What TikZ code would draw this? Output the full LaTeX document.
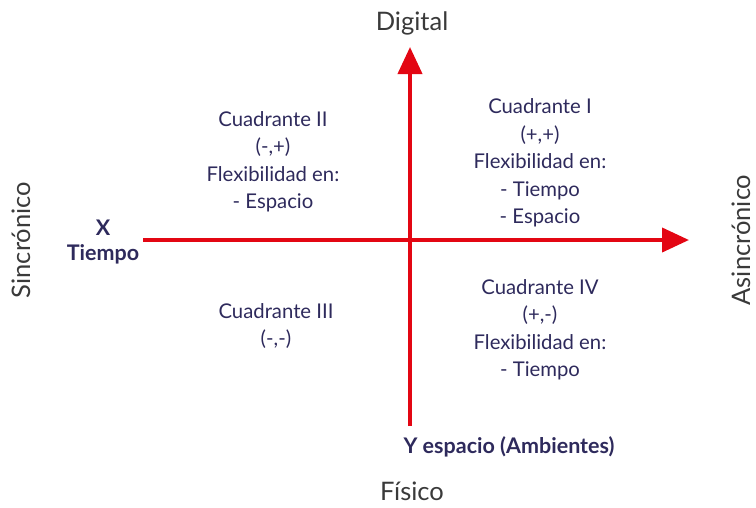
\documentclass[tikz,border=0pt]{standalone}
\usepackage{fontspec}
\setmainfont{Lato}
\usetikzlibrary{arrows.meta}
\definecolor{axred}{HTML}{E30613}
\definecolor{navy}{HTML}{2E2A5C}
\definecolor{sidegray}{HTML}{3A3A3A}
\begin{document}
\begin{tikzpicture}[x=1pt,y=-1pt,
  axis/.style={axred,line width=4pt,-{Triangle[length=27pt,width=24pt]}},
  quad/.style={text=navy,font=\fontsize{20.3}{27.5}\selectfont,align=center},
  side/.style={text=sidegray,font=\fontsize{25.5}{30}\selectfont,inner sep=0pt},
  lbl/.style={text=navy,font=\fontsize{21.5}{25}\selectfont\bfseries,align=center}]
\useasboundingbox (0,0) rectangle (756,507);
\coordinate (xl) at (143,240);
\coordinate (xr) at (689,240);
\coordinate (yb) at (410,426);
\coordinate (yt) at (410,47);
\draw[axis] (xl) -- (xr);
\draw[axis] (yb) -- (yt);
\node[side] (dig) at (412,23) {Digital};
\node[side] (fis) at (412,491) {Físico};
\node[side,rotate=90] (sin) at (21,240) {Sincrónico};
\node[side,rotate=90] (asin) at (741,240) {Asincrónico};
\node[lbl] (xlab) at (103,242) {X\\Tiempo};
\node[lbl] (ylab) at (509,447) {Y espacio (Ambientes)};
\node[quad] (q2) at (273,162) {Cuadrante II\\(-,+)\\Flexibilidad en:\\- Espacio};
\node[quad] (q1) at (540,163) {Cuadrante I\\(+,+)\\Flexibilidad en:\\- Tiempo\\- Espacio};
\node[quad] (q3) at (276,326) {Cuadrante III\\(-,-)};
\node[quad] (q4) at (540,330) {Cuadrante IV\\(+,-)\\Flexibilidad en:\\- Tiempo};
\end{tikzpicture}
\end{document}
